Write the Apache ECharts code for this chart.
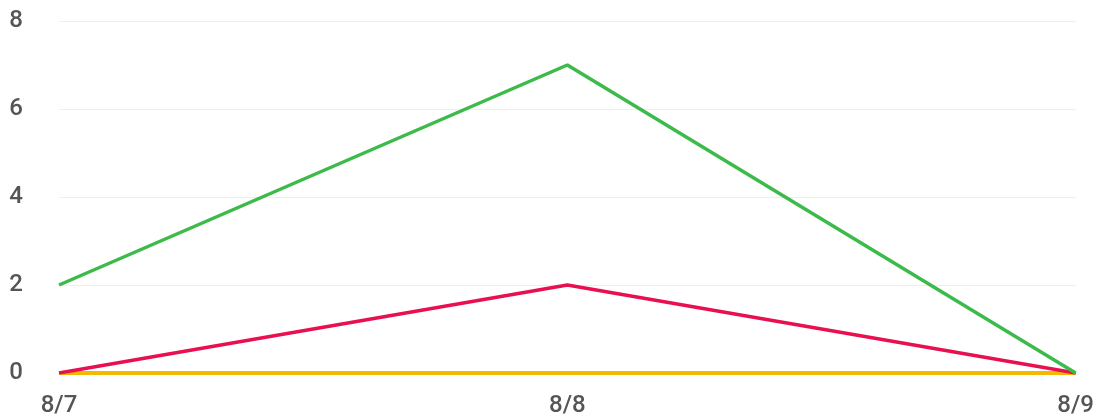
<!DOCTYPE html>
<html><head><meta charset="utf-8">
<script src="https://cdn.jsdelivr.net/npm/echarts@6/dist/echarts.min.js"></script>
<style>html,body{margin:0;padding:0;background:#fff}#c{width:1097px;height:420px}</style>
</head><body><div id="c"></div>
<script>
const categories = ['8/7', '8/8', '8/9'];
const greenValues = [2, 7, 0];
const redValues = [0, 2, 0];
const yellowValues = [0, 0, 0];
const yTicks = [0, 2, 4, 6, 8];

const chart = echarts.init(document.getElementById('c'));
chart.setOption({
  animation: false,
  grid: { left: 59, right: 19, top: 21, bottom: 47 },
  xAxis: {
    type: 'category', data: categories, boundaryGap: false,
    axisLine: { show: false }, axisTick: { show: false },
    axisLabel: { color: '#555', fontSize: 24, fontWeight: 500, fontFamily: 'Roboto', margin: 21 }
  },
  yAxis: {
    type: 'value', min: yTicks[0], max: yTicks[yTicks.length - 1], interval: 2,
    axisLine: { show: false }, axisTick: { show: false },
    splitLine: { lineStyle: { color: '#eeeeee', width: 1 } },
    axisLabel: { color: '#555', fontSize: 24, fontWeight: 500, fontFamily: 'Roboto', margin: 36 }
  },
  series: [
    { type: 'line', data: yellowValues, symbol: 'none', lineStyle: { color: '#f5b800', width: 4 }, itemStyle: { color: '#f5b800' } },
    { type: 'line', data: redValues, symbol: 'none', lineStyle: { color: '#e8104f', width: 3.5 }, itemStyle: { color: '#e8104f' } },
    { type: 'line', data: greenValues, symbol: 'none', lineStyle: { color: '#3cba4a', width: 3.5 }, itemStyle: { color: '#3cba4a' } }
  ]
});
</script></body></html>
